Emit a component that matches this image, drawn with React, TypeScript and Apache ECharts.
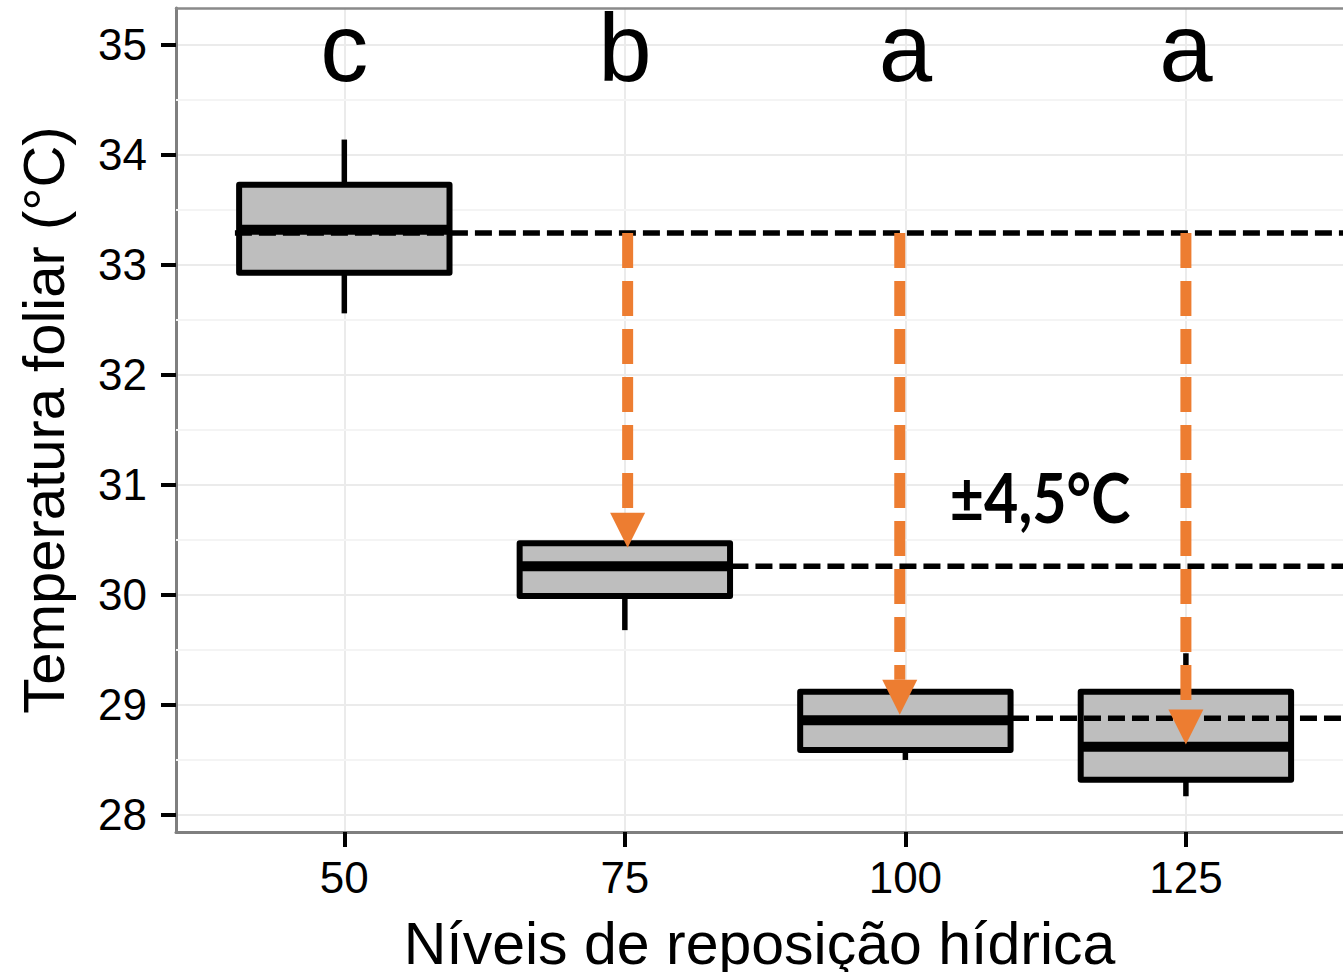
import React, { useEffect, useRef } from "react";
import * as echarts from "echarts";

// ---------- data ----------
const categories = ["50", "75", "100", "125"];
const categoryPos = [1, 2, 3, 4];
const boxMin = [32.56, 29.68, 28.5, 28.17];
const boxQ1 = [32.93, 29.99, 28.59, 28.32];
const boxMedian = [33.32, 30.26, 28.86, 28.62];
const boxQ3 = [33.73, 30.47, 29.12, 29.12];
const boxMax = [34.14, 30.47, 29.12, 29.47];
const letters = ["c", "b", "a", "a"];
const letterY = 34.975;
const yTicks = [28, 29, 30, 31, 32, 33, 34, 35];
const yMinor = [28.5, 29.5, 30.5, 31.5, 32.5, 33.5, 34.5];
const refLineY = [33.29, 30.26, 28.88];
const refLineStart = [0.61, 2.38, 3.38];
const arrowX = [2.01, 2.98, 4.0];
const arrowFrom = 33.29;
const arrowTip = [30.43, 28.91, 28.64];
const annotationText = "±4,5°C";
const annotationPos = [3.48, 30.89];
const xTitle = "Níveis de reposição hídrica";
const yTitle = "Temperatura foliar (°C)";

// ---------- style constants ----------
const FONT = "'Liberation Sans', Arial, sans-serif";
const BOX_WIDTH = 0.75;
const ORANGE = "#ed7d31";
const X_MIN = 0.4;
const X_MAX = 4.56;
const Y_MIN = 27.845;
const Y_MAX = 35.336;

export default function App() {
  const ref = useRef<HTMLDivElement>(null);

  useEffect(() => {
    if (!ref.current) return;
    const chart = echarts.init(ref.current, null, { renderer: "svg" });

    const boxData = categoryPos.map((x, i) => [x, boxMin[i], boxQ1[i], boxMedian[i], boxQ3[i], boxMax[i]]);
    const refData = refLineY.map((y, i) => [refLineStart[i], y]);
    const arrowData = arrowX.map((x, i) => [x, arrowFrom, arrowTip[i]]);
    const letterData = categoryPos.map((x, i) => [x, letterY, i]);
    const minorData = yMinor.map((y) => [X_MIN, y]);

    const option: any = {
      animation: false,
      backgroundColor: "#ffffff",
      grid: { left: 176, top: 8, right: 0, bottom: 140, containLabel: false, outerBoundsMode: "none" },
      xAxis: [
        {
          type: "value",
          min: X_MIN,
          max: X_MAX,
          splitNumber: 4,
          position: "bottom",
          axisLine: { show: true, onZero: false, lineStyle: { color: "#7f7f7f", width: 3 } },
          axisTick: { show: true, length: 15, customValues: categoryPos, lineStyle: { color: "#000", width: 4 } },
          axisLabel: {
            customValues: categoryPos,
            formatter: (v: number) => {
              const idx = categoryPos.indexOf(Math.round(v));
              return Math.abs(v - Math.round(v)) < 1e-6 && idx >= 0 ? categories[idx] : "";
            },
            fontSize: 44,
            color: "#000",
            fontFamily: FONT,
            margin: 23,
          },
          splitLine: { show: true, lineStyle: { color: "#ebebeb", width: 2 } },
          name: xTitle,
          nameLocation: "middle",
          nameGap: 81,
          nameTextStyle: { fontSize: 59, color: "#000", fontFamily: FONT, lineHeight: 62 },
        },
        {
          type: "value",
          min: X_MIN,
          max: X_MAX,
          position: "top",
          axisLine: { show: true, onZero: false, lineStyle: { color: "#8a8a8a", width: 2.5 } },
          axisTick: { show: false },
          axisLabel: { show: false },
          splitLine: { show: false },
        },
      ],
      yAxis: {
        type: "value",
        min: Y_MIN,
        max: Y_MAX,
        splitNumber: 7,
        axisLine: { show: true, onZero: false, lineStyle: { color: "#7f7f7f", width: 3 } },
        axisTick: { show: true, length: 15, customValues: yTicks, lineStyle: { color: "#000", width: 4 } },
        axisLabel: {
          customValues: yTicks,
          fontSize: 44,
          color: "#000",
          fontFamily: FONT,
          margin: 29,
        },
        splitLine: { show: true, lineStyle: { color: "#ebebeb", width: 2 } },
        name: yTitle,
        nameLocation: "middle",
        nameGap: 104,
        nameTextStyle: { fontSize: 58, color: "#000", fontFamily: FONT },
      },
      series: [
        {
          type: "custom",
          name: "minor",
          silent: true,
          z: 1,
          data: minorData,
          renderItem: (params: any, api: any) => {
            const p = api.coord([api.value(0), api.value(1)]);
            const cs = params.coordSys;
            return {
              type: "line",
              shape: { x1: cs.x, y1: p[1], x2: cs.x + cs.width, y2: p[1] },
              style: { stroke: "#f4f4f4", lineWidth: 2 },
            };
          },
        },
        {
          type: "custom",
          name: "boxes",
          z: 3,
          data: boxData,
          renderItem: (params: any, api: any) => {
            const x = api.value(0);
            const pMin = api.coord([x, api.value(1)]);
            const pQ1 = api.coord([x, api.value(2)]);
            const pMed = api.coord([x, api.value(3)]);
            const pQ3 = api.coord([x, api.value(4)]);
            const pMax = api.coord([x, api.value(5)]);
            const half = api.size([BOX_WIDTH, 0])[0] / 2;
            const cx = pMed[0];
            const stroke = { stroke: "#000", lineWidth: 5.5 };
            return {
              type: "group",
              children: [
                { type: "line", shape: { x1: cx, y1: pQ3[1], x2: cx, y2: pMax[1] }, style: stroke },
                { type: "line", shape: { x1: cx, y1: pQ1[1], x2: cx, y2: pMin[1] }, style: stroke },
                {
                  type: "rect",
                  shape: { x: cx - half, y: pQ3[1], width: 2 * half, height: pQ1[1] - pQ3[1] },
                  style: { fill: "#bebebe", stroke: "#000", lineWidth: 6, lineJoin: "round" },
                },
                {
                  type: "line",
                  shape: { x1: cx - half, y1: pMed[1], x2: cx + half, y2: pMed[1] },
                  style: { stroke: "#000", lineWidth: 10 },
                },
              ],
            };
          },
        },
        {
          type: "custom",
          name: "refLines",
          z: 4,
          silent: true,
          data: refData,
          renderItem: (params: any, api: any) => {
            const p = api.coord([api.value(0), api.value(1)]);
            const cs = params.coordSys;
            return {
              type: "line",
              shape: { x1: p[0], y1: p[1], x2: cs.x + cs.width + 20, y2: p[1] },
              style: { stroke: "#000", lineWidth: 5.5, lineDash: [17, 7] },
            };
          },
        },
        {
          type: "custom",
          name: "arrows",
          z: 5,
          silent: true,
          data: arrowData,
          renderItem: (params: any, api: any) => {
            const x = api.value(0);
            const p0 = api.coord([x, api.value(1)]);
            const p1 = api.coord([x, api.value(2)]);
            const headH = 35;
            const headW = 35;
            const headTop = p1[1] - headH;
            return {
              type: "group",
              children: [
                {
                  type: "line",
                  shape: { x1: p0[0], y1: p0[1], x2: p0[0], y2: headTop },
                  style: { stroke: ORANGE, lineWidth: 11, lineDash: [35, 13], lineCap: "butt" },
                },
                {
                  type: "polygon",
                  shape: {
                    points: [
                      [p1[0] - headW / 2, headTop],
                      [p1[0] + headW / 2, headTop],
                      [p1[0], p1[1]],
                    ],
                  },
                  style: { fill: ORANGE },
                },
              ],
            };
          },
        },
        {
          type: "custom",
          name: "letters",
          z: 6,
          silent: true,
          data: letterData,
          renderItem: (params: any, api: any) => {
            const p = api.coord([api.value(0), api.value(1)]);
            return {
              type: "text",
              x: p[0],
              y: p[1],
              style: {
                text: letters[api.value(2)],
                x: 0,
                y: 0,
                fontSize: 96,
                lineHeight: 88,
                fontFamily: FONT,
                fill: "#000",
                align: "center",
                verticalAlign: "middle",
              },
            };
          },
        },
        {
          type: "custom",
          name: "annotation",
          z: 6,
          silent: true,
          data: [annotationPos],
          renderItem: (params: any, api: any) => {
            const p = api.coord([api.value(0), api.value(1)]);
            return {
              type: "text",
              x: p[0],
              y: p[1],
              scaleX: 0.87,
              style: {
                text: annotationText,
                x: 0,
                y: 0,
                fontSize: 68,
                fontWeight: "bold",
                fontFamily: "Lato, 'Open Sans', sans-serif",
                fill: "#000",
                align: "center",
                verticalAlign: "middle",
              },
            };
          },
        },
      ],
    };

    chart.setOption(option);
    return () => {
      chart.dispose();
    };
  }, []);

  return (
    <div
      ref={ref}
      style={{ position: "absolute", left: 0, top: 0, width: 1343, height: 972, background: "#fff" }}
    />
  );
}
